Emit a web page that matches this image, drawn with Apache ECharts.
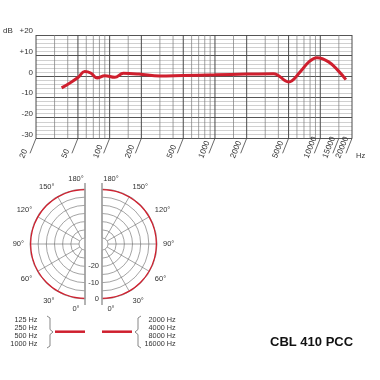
<!DOCTYPE html>
<html><head><meta charset="utf-8">
<script src="https://cdn.jsdelivr.net/npm/echarts@6/dist/echarts.min.js"></script>
<style>html,body{margin:0;padding:0;background:#fff}#c{width:380px;height:380px}</style>
</head><body><div id="c"></div>
<script>
// ---- data ----
const freqs = [35, 42, 50, 58, 66, 76, 90, 112, 135, 190, 300, 500, 1000, 2000, 3600, 5000, 6500, 7800, 9300, 12000, 15000, 17500];
const levels = [-5.6, -3.2, -0.6, 2.3, 1.6, -0.8, 0.3, -0.5, 1.5, 1.1, 0.1, 0.4, 0.7, 1.1, 1.3, -2.7, 2.4, 7.0, 9.0, 7.0, 2.4, -1.6];
const majorFreqLines = [20, 50, 100, 200, 500, 1000, 2000, 5000, 10000, 20000];
const minorFreqLines = [30, 40, 60, 70, 80, 90, 150, 300, 400, 600, 700, 800, 900, 1500, 3000, 4000, 6000, 7000, 8000, 9000, 15000];
const freqTickLabels = [20, 50, 100, 200, 500, 1000, 2000, 5000, 10000, 15000, 20000];
const dbMin = -30, dbMax = 20;
const polarAngles = [0, 15, 30, 45, 60, 75, 90, 105, 120, 135, 150, 165, 180];
const lowBandLevels = [0, 0, 0, 0, 0, 0, 0, 0, 0, 0, 0, 0, 0];
const highBandLevels = [0, 0, 0, 0, 0, 0, 0, 0, 0, 0, 0, 0, 0];
const ringLabels = [0, -10, -20];
const lowBandNames = ['125 Hz', '250 Hz', '500 Hz', '1000 Hz'];
const highBandNames = ['2000 Hz', '4000 Hz', '8000 Hz', '16000 Hz'];
const modelName = 'CBL 410 PCC';

// ---- style / layout ----
const RED = '#cf1f2e';
const FONT = '"Liberation Sans", Arial, sans-serif';
const TXT = '#333';
const PL = {cx: 85, cy: 244}, PR = {cx: 102, cy: 244}, R0 = 6, R1 = 55;

const chart = echarts.init(document.getElementById('c'), null, {renderer: 'canvas'});

function vLines(list, color, width) {
  return {
    type: 'custom', xAxisIndex: 0, yAxisIndex: 0, silent: true, z: 1, clip: false,
    data: list.map(f => [f]),
    renderItem(params, api) {
      const a = api.coord([api.value(0), dbMax]);
      const b = api.coord([api.value(0), dbMin]);
      return {type: 'line', shape: {x1: a[0], y1: a[1], x2: b[0], y2: b[1]}, style: {stroke: color, lineWidth: width}};
    }
  };
}

const angleLabel = (side) => ({
  fontSize: 7.5, color: TXT, fontFamily: FONT, margin: 6,
  formatter: v => (v === 0 || v === 180) ? '{e|' + v + '°}' : v + '°',
  rich: {e: {fontSize: 7.5, color: TXT, fontFamily: FONT, padding: side === 'L' ? [0, 18, 0, 0] : [0, 0, 0, 18]}}
});

const option = {
  animation: false,
  backgroundColor: '#fff',
  grid: {left: 32, top: 35, width: 320, height: 103.3, containLabel: false},
  xAxis: {
    type: 'log', logBase: 10, min: 20, max: 20000,
    axisLine: {show: false, onZero: false}, axisTick: {show: false}, axisLabel: {show: false}, splitLine: {show: false},
    name: 'Hz', nameLocation: 'end', nameGap: 4,
    nameTextStyle: {fontSize: 7.5, color: TXT, fontFamily: FONT, align: 'left', verticalAlign: 'top', padding: [14, 0, 0, 0]}
  },
  yAxis: {
    type: 'value', min: dbMin, max: dbMax, interval: 10,
    axisLine: {show: false}, axisTick: {show: false},
    axisLabel: {
      fontSize: 8, color: TXT, fontFamily: FONT, margin: 3, verticalAlign: 'bottom',
      formatter: v => v === dbMax ? 'dB   +' + v : (v > 0 ? '+' + v : String(v))
    },
    splitLine: {show: true, lineStyle: {color: '#555', width: 1}},
    minorTick: {show: false, splitNumber: 5},
    minorSplitLine: {show: true, lineStyle: {color: '#b0b0b0', width: 0.6}}
  },
  polar: [
    {center: [PL.cx, PL.cy], radius: [R0, R1]},
    {center: [PR.cx, PR.cy], radius: [R0, R1]}
  ],
  angleAxis: [
    {polarIndex: 0, type: 'value', min: 0, max: 180, interval: 30, startAngle: 270, endAngle: 90, clockwise: true,
     axisLine: {show: false}, axisTick: {show: false}, axisLabel: angleLabel('L'),
     splitLine: {show: true, lineStyle: {color: '#666', width: 0.6}}},
    {polarIndex: 1, type: 'value', min: 0, max: 180, interval: 30, startAngle: -90, endAngle: 90, clockwise: false,
     axisLine: {show: false}, axisTick: {show: false}, axisLabel: angleLabel('R'),
     splitLine: {show: true, lineStyle: {color: '#666', width: 0.6}}}
  ],
  radiusAxis: [
    {polarIndex: 0, type: 'value', min: -30, max: 0, interval: 5,
     axisLine: {show: false}, axisTick: {show: false},
     axisLabel: {show: true, fontSize: 7.5, color: TXT, fontFamily: FONT, align: 'right', margin: 14, verticalAlign: 'middle',
                 formatter: v => ringLabels.indexOf(v) >= 0 ? String(v) : ''},
     splitLine: {show: true, lineStyle: {color: '#666', width: 0.6}}},
    {polarIndex: 1, type: 'value', min: -30, max: 0, interval: 5,
     axisLine: {show: false}, axisTick: {show: false}, axisLabel: {show: false},
     splitLine: {show: true, lineStyle: {color: '#666', width: 0.6}}}
  ],
  series: [
    vLines(minorFreqLines, '#7a7a7a', 0.7),
    vLines(majorFreqLines, '#4a4a4a', 1),
    {
      type: 'custom', xAxisIndex: 0, yAxisIndex: 0, silent: true, z: 2, clip: false,
      data: freqTickLabels.map(f => [f, dbMin]),
      renderItem(params, api) {
        const p = api.coord([api.value(0), api.value(1)]);
        const x = p[0], y = p[1];
        return {type: 'group', children: [
          {type: 'line', shape: {x1: x, y1: y, x2: x - 6, y2: y + 15}, style: {stroke: '#444', lineWidth: 0.8}},
          {type: 'text', x: x - 14, y: y + 19.5, rotation: 68 * Math.PI / 180,
           style: {text: String(api.value(0)), align: 'left', verticalAlign: 'middle', fontSize: 8, fill: TXT, fontFamily: FONT}}
        ]};
      }
    },
    {
      type: 'line', xAxisIndex: 0, yAxisIndex: 0, z: 5, smooth: 0.4, symbol: 'none',
      lineStyle: {color: RED, width: 3}, data: freqs.map((f, i) => [f, levels[i]])
    },
    {
      type: 'line', coordinateSystem: 'polar', polarIndex: 0, z: 5, smooth: 0.34, symbol: 'none',
      lineStyle: {color: RED, width: 2.5}, data: polarAngles.map((a, i) => [lowBandLevels[i], a])
    },
    {
      type: 'line', coordinateSystem: 'polar', polarIndex: 1, z: 5, smooth: 0.34, symbol: 'none',
      lineStyle: {color: RED, width: 2.5}, data: polarAngles.map((a, i) => [highBandLevels[i], a])
    }
  ],
  graphic: [
    {type: 'line', shape: {x1: PL.cx, y1: PL.cy - 61, x2: PL.cx, y2: PL.cy + 61}, style: {stroke: '#a0a0a0', lineWidth: 1.6}, z: 10},
    {type: 'line', shape: {x1: PR.cx, y1: PR.cy - 61, x2: PR.cx, y2: PR.cy + 61}, style: {stroke: '#a0a0a0', lineWidth: 1.6}, z: 10},
    {type: 'text', x: 37.5, y: 332, style: {text: lowBandNames.join('\n'), align: 'right', verticalAlign: 'middle', lineHeight: 8, fontSize: 7.3, fill: TXT, fontFamily: FONT}},
    {type: 'polyline', shape: {points: [[47, 316], [50, 318], [50, 329.5], [53, 332], [50, 334.5], [50, 346], [47, 348]]}, style: {stroke: '#555', lineWidth: 0.7, fill: null}},
    {type: 'line', shape: {x1: 55, y1: 331.7, x2: 85, y2: 331.7}, style: {stroke: RED, lineWidth: 2.5}},
    {type: 'line', shape: {x1: 102, y1: 331.7, x2: 132, y2: 331.7}, style: {stroke: RED, lineWidth: 2.5}},
    {type: 'polyline', shape: {points: [[141, 316], [138, 318], [138, 329.5], [135, 332], [138, 334.5], [138, 346], [141, 348]]}, style: {stroke: '#555', lineWidth: 0.7, fill: null}},
    {type: 'text', x: 175.7, y: 332, style: {text: highBandNames.join('\n'), align: 'right', verticalAlign: 'middle', lineHeight: 8, fontSize: 7.3, fill: TXT, fontFamily: FONT}},
    {type: 'text', x: 270, y: 342, style: {text: modelName, align: 'left', verticalAlign: 'middle', fontSize: 13, fontWeight: 'bold', fill: '#111', fontFamily: FONT}}
  ]
};
chart.setOption(option);
</script>
</body></html>
